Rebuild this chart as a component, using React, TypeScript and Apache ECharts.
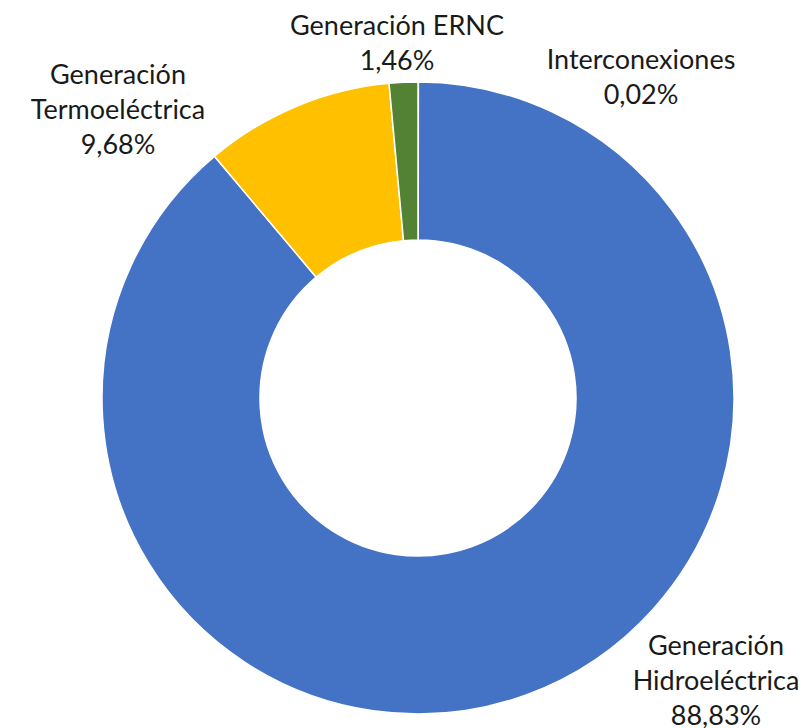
import React, { useEffect, useRef } from "react";
import * as echarts from "echarts";

const categories = [
  "Interconexiones",
  "Generación\nHidroeléctrica",
  "Generación\nTermoeléctrica",
  "Generación ERNC",
];
const shares = [0.02, 88.83, 9.68, 1.46];
const colors = ["#A5A5A5", "#4472C4", "#FFC000", "#548235"];
const labelCenters: [number, number][] = [
  [641, 76],
  [716, 679],
  [118, 108],
  [397, 42],
];

export default function App() {
  const ref = useRef<HTMLDivElement>(null);
  useEffect(() => {
    if (!ref.current) return;
    const chart = echarts.init(ref.current, undefined, { renderer: "svg" });
    chart.setOption({
      animation: false,
      series: [
        {
          type: "pie",
          center: [418, 398],
          radius: [158, 316],
          startAngle: 90,
          clockwise: true,
          avoidLabelOverlap: false,
          itemStyle: { borderColor: "#ffffff", borderWidth: 1.5 },
          label: {
            show: true,
            position: "outside",
            fontFamily: "Lato, 'Open Sans', sans-serif",
            fontSize: 27,
            lineHeight: 35,
            color: "#1a1a1a",
            align: "center",
            formatter: (p: any) =>
              p.name + "\n" + Number(p.value).toFixed(2).replace(".", ",") + "%",
          },
          labelLine: { show: false },
          labelLayout: (params: any) => {
            const c = labelCenters[params.dataIndex];
            return { x: c[0], y: c[1], align: "center", verticalAlign: "middle" };
          },
          emphasis: { disabled: true },
          data: categories.map((name, i) => ({
            name,
            value: shares[i],
            itemStyle: { color: colors[i] },
          })),
        },
      ],
    });
    return () => chart.dispose();
  }, []);
  return (
    <div
      ref={ref}
      style={{ position: "fixed", left: 0, top: 0, width: 805, height: 728, background: "#fff" }}
    />
  );
}
